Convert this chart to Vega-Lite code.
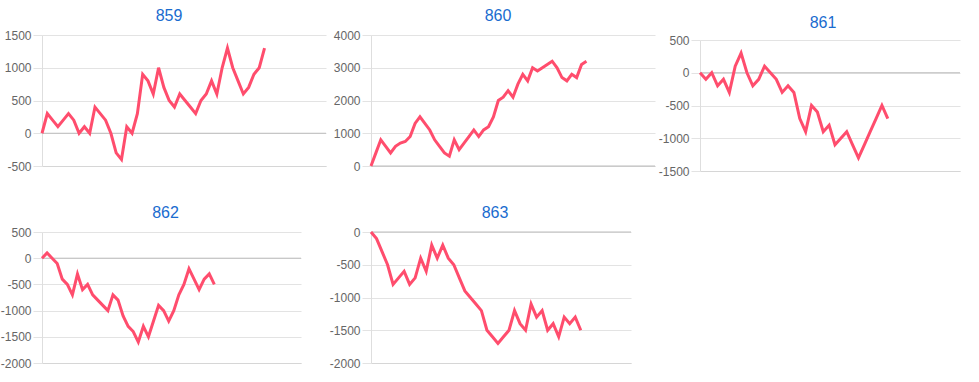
{
  "$schema": "https://vega.github.io/schema/vega-lite/v6.json",
  "padding": {"left": 0, "top": 8, "right": 5, "bottom": 5},
  "background": "white",
  "columns": 3,
  "bounds": "flush",
  "spacing": {"row": 61, "column": 45},
  "config": {
    "view": {"stroke": null},
    "font": "Liberation Sans",
    "title": {"fontSize": 16, "fontWeight": "normal", "color": "#1a6ccf", "font": "Liberation Sans", "anchor": "middle", "frame": "group", "baseline": "alphabetic"},
    "axisY": {"grid": true, "gridColor": "#e3e3e3", "domainColor": "#dedede", "tickColor": "#e3e3e3", "tickSize": 9, "labelPadding": 2, "labelFontSize": 12, "labelColor": "#666666", "labelFont": "Liberation Sans", "labelOverlap": false, "labelFlush": false, "labelExpr": "toString(datum.value)"},
    "axisX": {"grid": false, "labels": false, "ticks": false, "domainColor": "#d6d6d6"}
  },
  "datasets": {
    "p859": [{"i":0,"v":0},{"i":1,"v":300},{"i":2,"v":200},{"i":3,"v":100},{"i":4,"v":200},{"i":5,"v":300},{"i":6,"v":200},{"i":7,"v":0},{"i":8,"v":100},{"i":9,"v":0},{"i":10,"v":400},{"i":11,"v":300},{"i":12,"v":200},{"i":13,"v":0},{"i":14,"v":-300},{"i":15,"v":-400},{"i":16,"v":100},{"i":17,"v":0},{"i":18,"v":300},{"i":19,"v":900},{"i":20,"v":800},{"i":21,"v":600},{"i":22,"v":1000},{"i":23,"v":700},{"i":24,"v":500},{"i":25,"v":400},{"i":26,"v":600},{"i":27,"v":500},{"i":28,"v":400},{"i":29,"v":300},{"i":30,"v":500},{"i":31,"v":600},{"i":32,"v":800},{"i":33,"v":600},{"i":34,"v":1000},{"i":35,"v":1300},{"i":36,"v":1000},{"i":37,"v":800},{"i":38,"v":600},{"i":39,"v":700},{"i":40,"v":900},{"i":41,"v":1000},{"i":42,"v":1300}],
    "p860": [{"i":0,"v":0},{"i":1,"v":400},{"i":2,"v":800},{"i":3,"v":600},{"i":4,"v":400},{"i":5,"v":600},{"i":6,"v":700},{"i":7,"v":750},{"i":8,"v":900},{"i":9,"v":1300},{"i":10,"v":1500},{"i":11,"v":1300},{"i":12,"v":1100},{"i":13,"v":800},{"i":14,"v":600},{"i":15,"v":400},{"i":16,"v":300},{"i":17,"v":800},{"i":18,"v":500},{"i":19,"v":700},{"i":20,"v":900},{"i":21,"v":1100},{"i":22,"v":900},{"i":23,"v":1100},{"i":24,"v":1200},{"i":25,"v":1500},{"i":26,"v":2000},{"i":27,"v":2100},{"i":28,"v":2300},{"i":29,"v":2100},{"i":30,"v":2500},{"i":31,"v":2800},{"i":32,"v":2600},{"i":33,"v":3000},{"i":34,"v":2900},{"i":35,"v":3000},{"i":36,"v":3100},{"i":37,"v":3200},{"i":38,"v":3000},{"i":39,"v":2700},{"i":40,"v":2600},{"i":41,"v":2800},{"i":42,"v":2700},{"i":43,"v":3100},{"i":44,"v":3200}],
    "p861": [{"i":0,"v":0},{"i":1,"v":-100},{"i":2,"v":0},{"i":3,"v":-200},{"i":4,"v":-100},{"i":5,"v":-300},{"i":6,"v":100},{"i":7,"v":300},{"i":8,"v":0},{"i":9,"v":-200},{"i":10,"v":-100},{"i":11,"v":100},{"i":12,"v":0},{"i":13,"v":-100},{"i":14,"v":-300},{"i":15,"v":-200},{"i":16,"v":-300},{"i":17,"v":-700},{"i":18,"v":-900},{"i":19,"v":-500},{"i":20,"v":-600},{"i":21,"v":-900},{"i":22,"v":-800},{"i":23,"v":-1100},{"i":24,"v":-1000},{"i":25,"v":-900},{"i":26,"v":-1100},{"i":27,"v":-1300},{"i":28,"v":-1100},{"i":29,"v":-900},{"i":30,"v":-700},{"i":31,"v":-500},{"i":32,"v":-700}],
    "p862": [{"i":0,"v":0},{"i":1,"v":100},{"i":2,"v":0},{"i":3,"v":-100},{"i":4,"v":-400},{"i":5,"v":-500},{"i":6,"v":-700},{"i":7,"v":-300},{"i":8,"v":-600},{"i":9,"v":-500},{"i":10,"v":-700},{"i":11,"v":-800},{"i":12,"v":-900},{"i":13,"v":-1000},{"i":14,"v":-700},{"i":15,"v":-800},{"i":16,"v":-1100},{"i":17,"v":-1300},{"i":18,"v":-1400},{"i":19,"v":-1600},{"i":20,"v":-1300},{"i":21,"v":-1500},{"i":22,"v":-1200},{"i":23,"v":-900},{"i":24,"v":-1000},{"i":25,"v":-1200},{"i":26,"v":-1000},{"i":27,"v":-700},{"i":28,"v":-500},{"i":29,"v":-200},{"i":30,"v":-400},{"i":31,"v":-600},{"i":32,"v":-400},{"i":33,"v":-300},{"i":34,"v":-500}],
    "p863": [{"i":0,"v":0},{"i":1,"v":-100},{"i":2,"v":-300},{"i":3,"v":-500},{"i":4,"v":-800},{"i":5,"v":-700},{"i":6,"v":-600},{"i":7,"v":-800},{"i":8,"v":-700},{"i":9,"v":-400},{"i":10,"v":-600},{"i":11,"v":-200},{"i":12,"v":-400},{"i":13,"v":-200},{"i":14,"v":-400},{"i":15,"v":-500},{"i":16,"v":-700},{"i":17,"v":-900},{"i":18,"v":-1000},{"i":19,"v":-1100},{"i":20,"v":-1200},{"i":21,"v":-1500},{"i":22,"v":-1600},{"i":23,"v":-1700},{"i":24,"v":-1600},{"i":25,"v":-1500},{"i":26,"v":-1200},{"i":27,"v":-1400},{"i":28,"v":-1500},{"i":29,"v":-1100},{"i":30,"v":-1300},{"i":31,"v":-1200},{"i":32,"v":-1500},{"i":33,"v":-1400},{"i":34,"v":-1600},{"i":35,"v":-1300},{"i":36,"v":-1400},{"i":37,"v":-1300},{"i":38,"v":-1500}]
  },
  "concat": [
    {
      "title": {"text": "859", "dx": -15, "offset": 5},
      "width": 284, "height": 131,
      "layer": [
        {"data": {"values": [{}]}, "mark": {"type": "rule", "color": "#bdbdbd"}, "encoding": {"y": {"datum": 0, "type": "quantitative", "scale": {"domain": [-500, 1500], "nice": false}, "axis": {"title": null, "values": [-500, 0, 500, 1000, 1500]}}}},
        {"data": {"name": "p859"}, "mark": {"type": "line", "color": "#ff4d6d", "strokeWidth": 3},
         "encoding": {
           "x": {"field": "i", "type": "quantitative", "scale": {"domain": [0, 53.6], "nice": false, "zero": false}, "axis": {"title": null}},
           "y": {"field": "v", "type": "quantitative", "scale": {"domain": [-500, 1500], "nice": false}, "axis": {"title": null, "values": [-500, 0, 500, 1000, 1500]}}
         }}
      ]
    },
    {
      "title": {"text": "860", "dx": -15, "offset": 5},
      "width": 284, "height": 131,
      "layer": [
        {"data": {"values": [{}]}, "mark": {"type": "rule", "color": "#bdbdbd"}, "encoding": {"y": {"datum": 0, "type": "quantitative", "scale": {"domain": [0, 4000], "nice": false}, "axis": {"title": null, "values": [0, 1000, 2000, 3000, 4000]}}}},
        {"data": {"name": "p860"}, "mark": {"type": "line", "color": "#ff4d6d", "strokeWidth": 3},
         "encoding": {
           "x": {"field": "i", "type": "quantitative", "scale": {"domain": [0, 58], "nice": false, "zero": false}, "axis": {"title": null}},
           "y": {"field": "v", "type": "quantitative", "scale": {"domain": [0, 4000], "nice": false}, "axis": {"title": null, "values": [0, 1000, 2000, 3000, 4000]}}
         }}
      ]
    },
    {
      "title": {"text": "861", "dx": -7, "offset": 3},
      "width": 260, "height": 136,
      "layer": [
        {"data": {"values": [{}]}, "mark": {"type": "rule", "color": "#bdbdbd"}, "encoding": {"y": {"datum": 0, "type": "quantitative", "scale": {"domain": [-1500, 500], "nice": false, "range": [136, 5]}, "axis": {"title": null, "values": [-1500, -1000, -500, 0, 500]}}}},
        {"data": {"name": "p861"}, "mark": {"type": "line", "color": "#ff4d6d", "strokeWidth": 3},
         "encoding": {
           "x": {"field": "i", "type": "quantitative", "scale": {"domain": [0, 44.3], "nice": false, "zero": false}, "axis": {"title": null}},
           "y": {"field": "v", "type": "quantitative", "scale": {"domain": [-1500, 500], "nice": false, "range": [136, 5]}, "axis": {"title": null, "values": [-1500, -1000, -500, 0, 500]}}
         }}
      ]
    },
    {
      "title": {"text": "862", "dx": -6, "offset": 5},
      "width": 259, "height": 131,
      "layer": [
        {"data": {"values": [{}]}, "mark": {"type": "rule", "color": "#bdbdbd"}, "encoding": {"y": {"datum": 0, "type": "quantitative", "scale": {"domain": [-2000, 500], "nice": false}, "axis": {"title": null, "values": [-2000, -1500, -1000, -500, 0, 500]}}}},
        {"data": {"name": "p862"}, "mark": {"type": "line", "color": "#ff4d6d", "strokeWidth": 3},
         "encoding": {
           "x": {"field": "i", "type": "quantitative", "scale": {"domain": [0, 51.1], "nice": false, "zero": false}, "axis": {"title": null}},
           "y": {"field": "v", "type": "quantitative", "scale": {"domain": [-2000, 500], "nice": false}, "axis": {"title": null, "values": [-2000, -1500, -1000, -500, 0, 500]}}
         }}
      ]
    },
    {
      "title": {"text": "863", "dx": -6, "offset": 5},
      "width": 260, "height": 131,
      "layer": [
        {"data": {"values": [{}]}, "mark": {"type": "rule", "color": "#bdbdbd"}, "encoding": {"y": {"datum": 0, "type": "quantitative", "scale": {"domain": [-2000, 0], "nice": false}, "axis": {"title": null, "values": [-2000, -1500, -1000, -500, 0]}}}},
        {"data": {"name": "p863"}, "mark": {"type": "line", "color": "#ff4d6d", "strokeWidth": 3},
         "encoding": {
           "x": {"field": "i", "type": "quantitative", "scale": {"domain": [0, 47.1], "nice": false, "zero": false}, "axis": {"title": null}},
           "y": {"field": "v", "type": "quantitative", "scale": {"domain": [-2000, 0], "nice": false}, "axis": {"title": null, "values": [-2000, -1500, -1000, -500, 0]}}
         }}
      ]
    }
  ]
}
